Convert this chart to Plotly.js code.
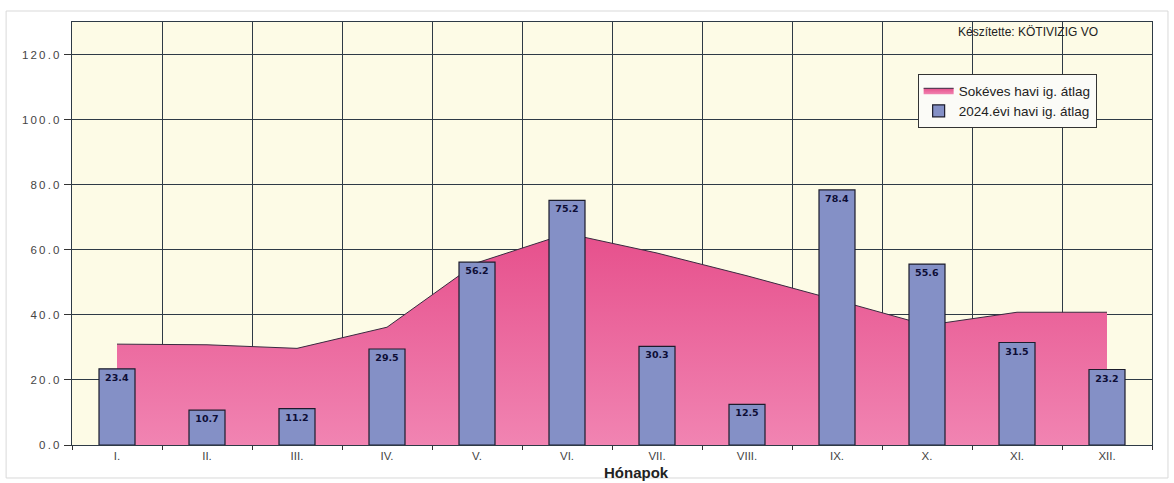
<!DOCTYPE html>
<html>
<head>
<meta charset="utf-8">
<script src="https://cdn.plot.ly/plotly-3.0.1.min.js"></script>
<style>
html,body{margin:0;padding:0;background:#fff;}
#chart{width:1174px;height:483px;}
#chart .ytick text{letter-spacing:2.2px;}
</style>
</head>
<body>
<div id="chart"></div>
<script>
const months = ["I.", "II.", "III.", "IV.", "V.", "VI.", "VII.", "VIII.", "IX.", "X.", "XI.", "XII."];
const longTermAvg = [31.0, 30.8, 29.7, 36.2, 56.0, 65.0, 59.0, 52.0, 44.5, 36.8, 40.8, 40.8];
const avg2024 = [23.4, 10.7, 11.2, 29.5, 56.2, 75.2, 30.3, 12.5, 78.4, 55.6, 31.5, 23.2];
const seriesNames = ["Sokéves havi ig. átlag", "2024.évi havi ig. átlag"];
const yTicks = [0, 20, 40, 60, 80, 100, 120];

const traces = [
  {
    type: "scatter",
    mode: "lines",
    name: seriesNames[0],
    x: months,
    y: longTermAvg,
    fill: "tozeroy",
    fillcolor: "#EC6AA0",
    fillgradient: {type: "vertical", start: 0, stop: 65, colorscale: [[0, "#F184B2"], [1, "#E6508C"]]},
    line: {color: "#3a2a40", width: 1},
    hoverinfo: "x+y"
  },
  {
    type: "bar",
    name: seriesNames[1],
    x: months,
    y: avg2024,
    xaxis: "x2",
    yaxis: "y2",
    width: 0.4,
    marker: {color: "#8490C6", line: {color: "#1c1c2c", width: 1.2}},
    text: avg2024.map(v => v.toFixed(1)),
    textposition: "inside",
    insidetextanchor: "end",
    textangle: 0,
    constraintext: "none",
    textfont: {family: "DejaVu Sans", size: 9.5, color: "#0d0d35", weight: "bold"},
    cliponaxis: false
  }
];

const layout = {
  width: 1174,
  height: 483,
  margin: {l: 72, r: 22, t: 22, b: 38},
  paper_bgcolor: "#ffffff",
  plot_bgcolor: "#FDFBE6",
  showlegend: true,
  font: {family: "Liberation Sans, Arial, sans-serif", color: "#333"},
  xaxis: {
    type: "category",
    range: [-0.5, 11.5],
    tickson: "boundaries",
    ticks: "outside",
    ticklen: 4,
    tickcolor: "#333",
    showgrid: true,
    gridcolor: "#2E3A46",
    gridwidth: 1,
    showline: true,
    linecolor: "#2E3A46",
    linewidth: 1,
    mirror: true,
    tickfont: {size: 11.5, color: "#444"},
    fixedrange: true
  },
  yaxis: {
    range: [0, 130],
    tickvals: yTicks,
    tickformat: ".1f",
    ticks: "outside",
    ticklen: 7,
    tickcolor: "#333",
    showgrid: true,
    gridcolor: "#2E3A46",
    gridwidth: 1,
    zeroline: false,
    showline: true,
    linecolor: "#2E3A46",
    linewidth: 1,
    mirror: true,
    tickfont: {size: 11.5, color: "#444"},
    fixedrange: true
  },
  xaxis2: {
    type: "category",
    overlaying: "x",
    range: [-0.5, 11.5],
    visible: false,
    fixedrange: true
  },
  yaxis2: {
    overlaying: "y",
    range: [0, 130],
    visible: false,
    fixedrange: true
  },
  legend: {
    x: 0.783, y: 0.877, xanchor: "left", yanchor: "top",
    bgcolor: "#FBFBF7",
    bordercolor: "#333",
    borderwidth: 1,
    font: {size: 13.5, color: "#222"},
    traceorder: "normal",
    itemwidth: 30,
    tracegroupgap: 0
  },
  annotations: [
    {
      xref: "paper", yref: "paper",
      x: 0.885, y: 0.976,
      xanchor: "center", yanchor: "middle",
      text: "Készítette: KÖTIVIZIG VO",
      showarrow: false,
      font: {size: 12, color: "#222"}
    },
    {
      xref: "paper", yref: "paper",
      x: 0.523, y: -0.066,
      xanchor: "center", yanchor: "middle",
      text: "Hónapok",
      showarrow: false,
      font: {size: 15, color: "#222", weight: "bold"}
    }
  ],
  shapes: [
    {
      type: "rect", xref: "paper", yref: "paper",
      x0: -0.061, x1: 1.0148, y0: -0.078, y1: 1.026,
      line: {color: "#d9d9d9", width: 1},
      fillcolor: "rgba(0,0,0,0)",
      layer: "below"
    }
  ]
};

Plotly.newPlot("chart", traces, layout, {displayModeBar: false, staticPlot: true});
</script>
</body>
</html>
